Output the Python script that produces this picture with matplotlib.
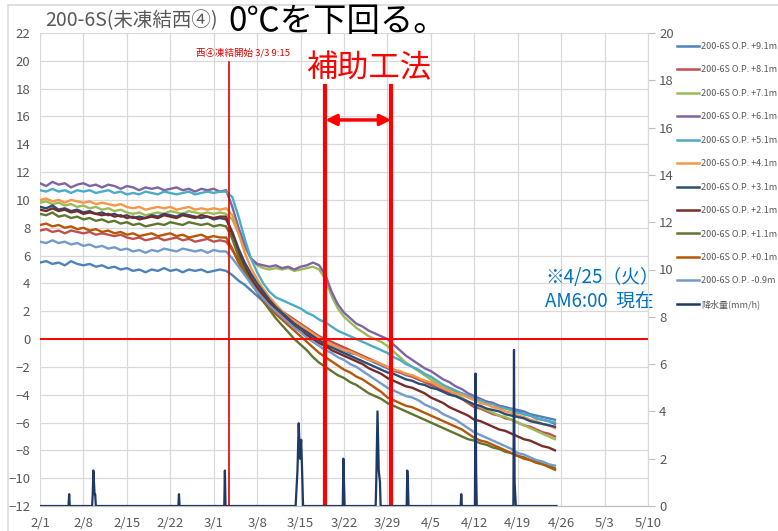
import numpy as np
import matplotlib
matplotlib.use('Agg')
import matplotlib.pyplot as plt
from matplotlib.lines import Line2D
from matplotlib.patches import Rectangle

plt.rcParams['font.family'] = ['Noto Sans CJK JP', 'DejaVu Sans']

# day 0 = 2/1, daily readings up to 4/25
days = np.arange(84)

t_p91 = [5.5, 5.6, 5.4, 5.5, 5.3, 5.6, 5.4, 5.3, 5.4, 5.2,
         5.3, 5.1, 5.2, 5.0, 5.1, 4.9, 5.0, 4.8, 5.0, 4.9,
         5.1, 4.9, 5.0, 4.8, 5.0, 4.9, 5.0, 4.8, 4.9, 5.0,
         4.9, 4.6, 4.2, 3.9, 3.5, 3.1, 2.7, 2.3, 2.0, 1.7,
         1.4, 1.1, 0.8, 0.5, 0.3, 0.0, -0.2, -0.4, -0.6, -0.8,
         -1.0, -1.1, -1.3, -1.5, -1.7, -1.9, -2.1, -2.3, -2.4, -2.6,
         -2.7, -2.9, -3.0, -3.2, -3.3, -3.5, -3.6, -3.8, -3.9, -4.1,
         -4.3, -4.4, -4.5, -4.6, -4.8, -4.9, -5.0, -5.1, -5.2, -5.4,
         -5.5, -5.6, -5.7, -5.8]
t_p81 = [7.8, 7.9, 7.7, 7.8, 7.6, 7.8, 7.7, 7.6, 7.7, 7.5,
         7.6, 7.5, 7.4, 7.5, 7.3, 7.2, 7.3, 7.1, 7.2, 7.3,
         7.1, 7.2, 7.3, 7.1, 7.2, 7.0, 7.1, 7.2, 7.0, 7.1,
         7.0, 6.4, 5.6, 4.9, 4.3, 3.7, 3.2, 2.8, 2.4, 2.0,
         1.7, 1.4, 1.1, 0.8, 0.5, 0.2, 0.0, -0.2, -0.4, -0.6,
         -0.8, -1.0, -1.2, -1.4, -1.6, -1.8, -2.0, -2.2, -2.4, -2.5,
         -2.7, -2.9, -3.1, -3.3, -3.5, -3.7, -3.9, -4.1, -4.3, -4.6,
         -4.9, -5.0, -5.2, -5.4, -5.5, -5.7, -5.8, -6.0, -6.2, -6.3,
         -6.5, -6.7, -6.8, -7.0]
t_p71 = [9.8, 9.9, 9.7, 9.8, 9.6, 9.7, 9.5, 9.6, 9.4, 9.5,
         9.3, 9.4, 9.2, 9.3, 9.1, 9.0, 9.1, 8.9, 9.0, 9.1,
         9.0, 9.2, 9.1, 9.0, 9.2, 9.1, 9.0, 9.1, 9.0, 9.1,
         9.0, 8.6, 7.6, 6.6, 5.8, 5.3, 5.1, 5.0, 5.1, 5.0,
         5.1, 4.9, 5.0, 5.1, 5.2, 5.0, 4.3, 3.1, 2.2, 1.6,
         1.2, 0.8, 0.5, 0.2, 0.0, -0.2, -0.5, -0.9, -1.3, -1.7,
         -2.0, -2.3, -2.6, -2.9, -3.2, -3.5, -3.7, -4.0, -4.2, -4.5,
         -4.7, -4.9, -5.1, -5.3, -5.5, -5.6, -5.8, -6.0, -6.2, -6.4,
         -6.6, -6.8, -7.0, -7.2]
t_p61 = [11.2, 11.0, 11.3, 11.1, 11.2, 10.9, 11.1, 11.2, 11.0, 11.1,
         10.9, 11.1, 11.0, 10.8, 11.0, 10.9, 10.7, 10.9, 10.8, 10.9,
         10.7, 10.8, 10.9, 10.7, 10.8, 10.6, 10.8, 10.7, 10.8, 10.6,
         10.7, 9.5, 8.0, 6.8, 5.8, 5.4, 5.3, 5.2, 5.3, 5.1,
         5.2, 5.0, 5.2, 5.3, 5.5, 5.3, 4.6, 3.4, 2.5, 1.9,
         1.5, 1.1, 0.9, 0.6, 0.4, 0.2, 0.0, -0.4, -0.8, -1.2,
         -1.5, -1.8, -2.1, -2.3, -2.6, -2.9, -3.1, -3.4, -3.6, -3.9,
         -4.1, -4.3, -4.5, -4.6, -4.8, -4.9, -5.1, -5.2, -5.4, -5.5,
         -5.7, -5.8, -5.9, -6.1]
t_p51 = [10.7, 10.6, 10.8, 10.6, 10.7, 10.5, 10.7, 10.6, 10.7, 10.5,
         10.6, 10.7, 10.5, 10.6, 10.4, 10.5, 10.4, 10.6, 10.5, 10.4,
         10.6, 10.5, 10.4, 10.5, 10.6, 10.4, 10.5, 10.6, 10.5, 10.6,
         10.6, 10.2, 8.8, 7.2, 5.8, 4.8, 4.0, 3.4, 3.0, 2.8,
         2.6, 2.4, 2.2, 1.9, 1.7, 1.4, 1.2, 0.9, 0.6, 0.4,
         0.2, 0.0, -0.2, -0.4, -0.6, -0.8, -1.0, -1.3, -1.5, -1.8,
         -2.0, -2.2, -2.5, -2.7, -3.0, -3.3, -3.5, -3.7, -3.9, -4.1,
         -4.3, -4.4, -4.6, -4.7, -4.9, -5.0, -5.1, -5.3, -5.4, -5.5,
         -5.7, -5.8, -5.9, -6.0]
t_p41 = [10.0, 10.1, 9.9, 10.0, 9.8, 10.0, 9.9, 9.8, 9.9, 9.7,
         9.8, 9.7, 9.6, 9.7, 9.5, 9.4, 9.5, 9.3, 9.4, 9.5,
         9.4, 9.5, 9.3, 9.4, 9.5, 9.3, 9.4, 9.3, 9.4, 9.3,
         9.4, 8.9, 7.6, 6.2, 5.1, 4.3, 3.6, 3.0, 2.5, 2.0,
         1.6, 1.3, 1.0, 0.7, 0.4, 0.1, -0.2, -0.4, -0.6, -0.8,
         -0.9, -1.1, -1.3, -1.5, -1.6, -1.8, -2.0, -2.2, -2.3, -2.5,
         -2.6, -2.8, -3.0, -3.1, -3.3, -3.5, -3.7, -3.9, -4.0, -4.2,
         -4.4, -4.6, -4.7, -4.9, -5.0, -5.2, -5.3, -5.5, -5.6, -5.8,
         -5.9, -6.1, -6.2, -6.4]
t_p31 = [9.5, 9.4, 9.6, 9.3, 9.4, 9.2, 9.3, 9.1, 9.2, 9.0,
         9.1, 8.9, 9.0, 8.8, 8.9, 8.7, 8.8, 8.7, 8.9, 8.8,
         9.0, 8.9, 8.8, 9.0, 8.9, 8.8, 8.7, 8.8, 8.6, 8.7,
         8.6, 7.7, 6.5, 5.5, 4.7, 4.0, 3.4, 2.8, 2.3, 1.9,
         1.5, 1.1, 0.8, 0.5, 0.2, -0.1, -0.4, -0.6, -0.8, -1.0,
         -1.2, -1.4, -1.6, -1.8, -2.0, -2.2, -2.4, -2.5, -2.7, -2.9,
         -3.0, -3.2, -3.3, -3.5, -3.6, -3.8, -4.0, -4.1, -4.3, -4.5,
         -4.7, -4.8, -5.0, -5.1, -5.2, -5.4, -5.5, -5.6, -5.7, -5.9,
         -6.0, -6.1, -6.2, -6.3]
t_p21 = [9.3, 9.2, 9.4, 9.2, 9.3, 9.1, 9.2, 9.0, 9.1, 9.0,
         8.9, 9.0, 8.8, 8.9, 8.7, 8.8, 8.6, 8.7, 8.8, 8.7,
         8.9, 8.8, 8.7, 8.9, 8.8, 8.7, 8.9, 8.8, 8.7, 8.8,
         8.8, 7.5, 6.2, 5.2, 4.4, 3.7, 3.1, 2.6, 2.1, 1.7,
         1.3, 0.9, 0.6, 0.3, 0.0, -0.3, -0.5, -0.8, -1.0, -1.2,
         -1.4, -1.6, -1.8, -2.1, -2.3, -2.5, -2.8, -3.0, -3.2, -3.4,
         -3.5, -3.7, -3.9, -4.2, -4.4, -4.6, -4.9, -5.1, -5.3, -5.5,
         -5.8, -5.9, -6.1, -6.3, -6.5, -6.6, -6.8, -7.0, -7.2, -7.3,
         -7.5, -7.7, -7.8, -8.0]
t_p11 = [9.0, 8.9, 9.1, 8.8, 8.9, 8.7, 8.8, 8.6, 8.7, 8.5,
         8.6, 8.4, 8.5, 8.3, 8.4, 8.2, 8.3, 8.1, 8.2, 8.3,
         8.2, 8.4, 8.3, 8.2, 8.4, 8.3, 8.2, 8.3, 8.1, 8.2,
         8.1, 7.2, 5.9, 4.9, 4.1, 3.4, 2.7, 2.1, 1.5, 1.0,
         0.5, 0.0, -0.4, -0.8, -1.3, -1.7, -2.0, -2.3, -2.6, -2.8,
         -3.1, -3.3, -3.6, -3.9, -4.1, -4.3, -4.6, -4.8, -5.0, -5.2,
         -5.4, -5.6, -5.8, -6.0, -6.2, -6.4, -6.6, -6.8, -7.0, -7.2,
         -7.3, -7.5, -7.6, -7.8, -7.9, -8.1, -8.2, -8.4, -8.5, -8.7,
         -8.8, -9.0, -9.1, -9.3]
t_p01 = [8.2, 8.3, 8.1, 8.2, 8.0, 8.1, 7.9, 8.0, 7.8, 7.9,
         7.7, 7.8, 7.6, 7.7, 7.5, 7.6, 7.4, 7.5, 7.6, 7.4,
         7.5, 7.6, 7.4, 7.5, 7.3, 7.4, 7.5, 7.3, 7.4, 7.3,
         7.3, 6.5, 5.5, 4.7, 4.0, 3.4, 2.8, 2.3, 1.8, 1.4,
         1.0, 0.6, 0.2, -0.2, -0.6, -1.0, -1.3, -1.6, -1.9, -2.2,
         -2.4, -2.7, -2.9, -3.2, -3.5, -3.8, -4.2, -4.4, -4.6, -4.8,
         -4.9, -5.1, -5.3, -5.5, -5.7, -5.9, -6.1, -6.3, -6.5, -6.8,
         -7.1, -7.3, -7.4, -7.6, -7.8, -8.0, -8.2, -8.4, -8.6, -8.7,
         -8.9, -9.0, -9.2, -9.4]
t_m09 = [7.0, 6.9, 7.1, 6.9, 7.0, 6.8, 6.9, 6.7, 6.8, 6.6,
         6.7, 6.5, 6.6, 6.4, 6.5, 6.3, 6.4, 6.2, 6.4, 6.3,
         6.5, 6.4, 6.3, 6.5, 6.4, 6.3, 6.4, 6.2, 6.4, 6.3,
         6.3, 5.8, 5.2, 4.6, 4.0, 3.4, 2.9, 2.4, 2.0, 1.6,
         1.2, 0.8, 0.5, 0.1, -0.2, -0.5, -0.8, -1.0, -1.3, -1.5,
         -1.8, -2.0, -2.3, -2.6, -2.9, -3.2, -3.5, -3.7, -3.9, -4.1,
         -4.2, -4.4, -4.7, -4.9, -5.1, -5.4, -5.6, -5.8, -6.1, -6.4,
         -6.7, -6.9, -7.1, -7.3, -7.5, -7.7, -7.9, -8.2, -8.3, -8.5,
         -8.7, -8.8, -9.0, -9.1]

# rainfall (mm/h), right axis
rain_t = [0, 4.6, 4.7, 4.8, 8.4, 8.5, 8.6, 8.7, 8.8, 8.9, 9.0,
          22.3, 22.4, 22.5, 29.7, 29.8, 29.9,
          41.2, 41.3, 41.5, 41.7, 41.9, 42.1, 42.3, 42.4,
          48.8, 48.9, 49.0, 49.1, 54.1, 54.2, 54.4, 54.6, 54.8, 54.9,
          59.1, 59.2, 59.3, 59.4, 67.8, 67.9, 68.0,
          70.1, 70.2, 70.3, 70.4, 76.3, 76.4, 76.5, 76.6, 76.7, 83.25]
rain_mm = [0, 0, 0.5, 0, 0, 0.5, 1.5, 1.0, 0.5, 0.5, 0,
           0, 0.5, 0, 0, 1.5, 0,
           0, 0.5, 1.5, 3.5, 2.0, 2.8, 1.0, 0,
           0, 2.0, 1.0, 0, 0, 1.0, 4.0, 1.5, 1.0, 0,
           0, 1.5, 1.0, 0, 0, 0.5, 0,
           0, 5.6, 1.5, 0, 0, 6.6, 1.0, 0.5, 0, 0]

labels = ['200-6S O.P. +9.1m', '200-6S O.P. +8.1m', '200-6S O.P. +7.1m',
          '200-6S O.P. +6.1m', '200-6S O.P. +5.1m', '200-6S O.P. +4.1m',
          '200-6S O.P. +3.1m', '200-6S O.P. +2.1m', '200-6S O.P. +1.1m',
          '200-6S O.P. +0.1m', '200-6S O.P. -0.9m']
series = [t_p91, t_p81, t_p71, t_p61, t_p51, t_p41, t_p31, t_p21, t_p11, t_p01, t_m09]
colors = ['#4F81BD', '#C0504D', '#9BBB59', '#8064A2', '#4BACC6', '#F79646',
          '#2C4D75', '#772C2A', '#5F7530', '#B65708', '#729ACA']
rain_color = '#1F3864'

xtick_pos = [0, 7, 14, 21, 28, 35, 42, 49, 56, 63, 70, 77, 84, 91, 98]
xtick_labels = ['2/1', '2/8', '2/15', '2/22', '3/1', '3/8', '3/15', '3/22',
                '3/29', '4/5', '4/12', '4/19', '4/26', '5/3', '5/10']

freeze_start = 30.385   # 3/3 9:15
aux_start = 46.0
aux_end = 56.6

W, H = 778, 531
fig = plt.figure(figsize=(W / 100, H / 100), dpi=100)
ax = fig.add_axes([40 / W, 1 - 506 / H, 608 / W, 473 / H])
ax2 = ax.twinx()

gray = '#595959'
grid = '#D9D9D9'

for vals, c in zip(series, colors):
    ax.plot(days, vals, color=c, lw=1.7, zorder=3)

ax2.plot(rain_t, rain_mm, color=rain_color, lw=1.6, zorder=3)

ax.set_xlim(0, 98)
ax.set_ylim(-12, 22)
ax2.set_ylim(0, 20)
ax.set_xticks(xtick_pos)
ax.set_xticklabels(xtick_labels)
ax.set_yticks(range(-12, 23, 2))
ax2.set_yticks(range(0, 21, 2))
ax.grid(True, color=grid, lw=0.9, zorder=0)
ax.set_axisbelow(True)

for a in (ax, ax2):
    a.spines['top'].set_visible(False)
    a.spines['left'].set_visible(False)
    a.spines['right'].set_visible(False)
    a.spines['bottom'].set_color('#BFBFBF')
ax2.spines['right'].set_visible(True)
ax2.spines['right'].set_color(grid)
ax.tick_params(axis='both', length=0, labelsize=9.5, labelcolor=gray, pad=7)
ax.tick_params(axis='x', pad=8)
ax2.tick_params(axis='y', length=5, color='#BFBFBF', labelsize=9.5, labelcolor=gray, pad=3)

# red markers
ax.axhline(0, color='#FF0000', lw=1.4, zorder=5)
ax.plot([freeze_start, freeze_start], [-12, 19.9], color='#E00000', lw=1.2, zorder=5)
ax.text(freeze_start + 2.4, 20.6, '西④凍結開始 3/3 9:15', color='#E00000',
        fontsize=6.8, ha='center', va='center')
for xv in (aux_start, aux_end):
    ax.plot([xv, xv], [-12, 18.2], color='#FF0000', lw=3, zorder=6)
ax.annotate('', xy=(aux_start, 15.75), xytext=(aux_end, 15.75),
            arrowprops=dict(arrowstyle='<|-|>', color='#FF0000', lw=2.5,
                            mutation_scale=16, shrinkA=0, shrinkB=0), zorder=6)
ax.text(52.9, 19.5, '補助工法', color='#FF0000', fontsize=22.5, ha='center', va='center')

ax.text(81.4, 4.45, '※4/25（火）', color='#0070C0', fontsize=13.5, ha='left', va='center')
ax.text(81.4, 2.65, 'AM6:00  現在', color='#0070C0', fontsize=13.5, ha='left', va='center')

# title
fig.text(45 / W, 1 - 21 / H, '200-6S(未凍結西④)', color=gray, fontsize=14,
         ha='left', va='center')
fig.text(228 / W, 1 - 21 / H, '0℃を下回る。', color='black', fontsize=24,
         ha='left', va='center')

# legend
handles = [Line2D([], [], color=c, lw=1.8) for c in colors]
handles.append(Line2D([], [], color=rain_color, lw=1.8))
fig.legend(handles, labels + ['降水量(mm/h)'], loc='upper left',
           bbox_to_anchor=(677 / W, 1 - 42 / H), frameon=False, fontsize=6.5,
           labelcolor=gray, handlelength=2.4, handletextpad=0.3,
           labelspacing=1.6, borderaxespad=0, borderpad=0)

# chart border
fig.add_artist(Rectangle((8 / W, -0.1), 1.2, 1.1 - 5 / H, transform=fig.transFigure,
                         fill=False, edgecolor='#D9D9D9', lw=1.2))

fig.savefig('out.png', dpi=100)
